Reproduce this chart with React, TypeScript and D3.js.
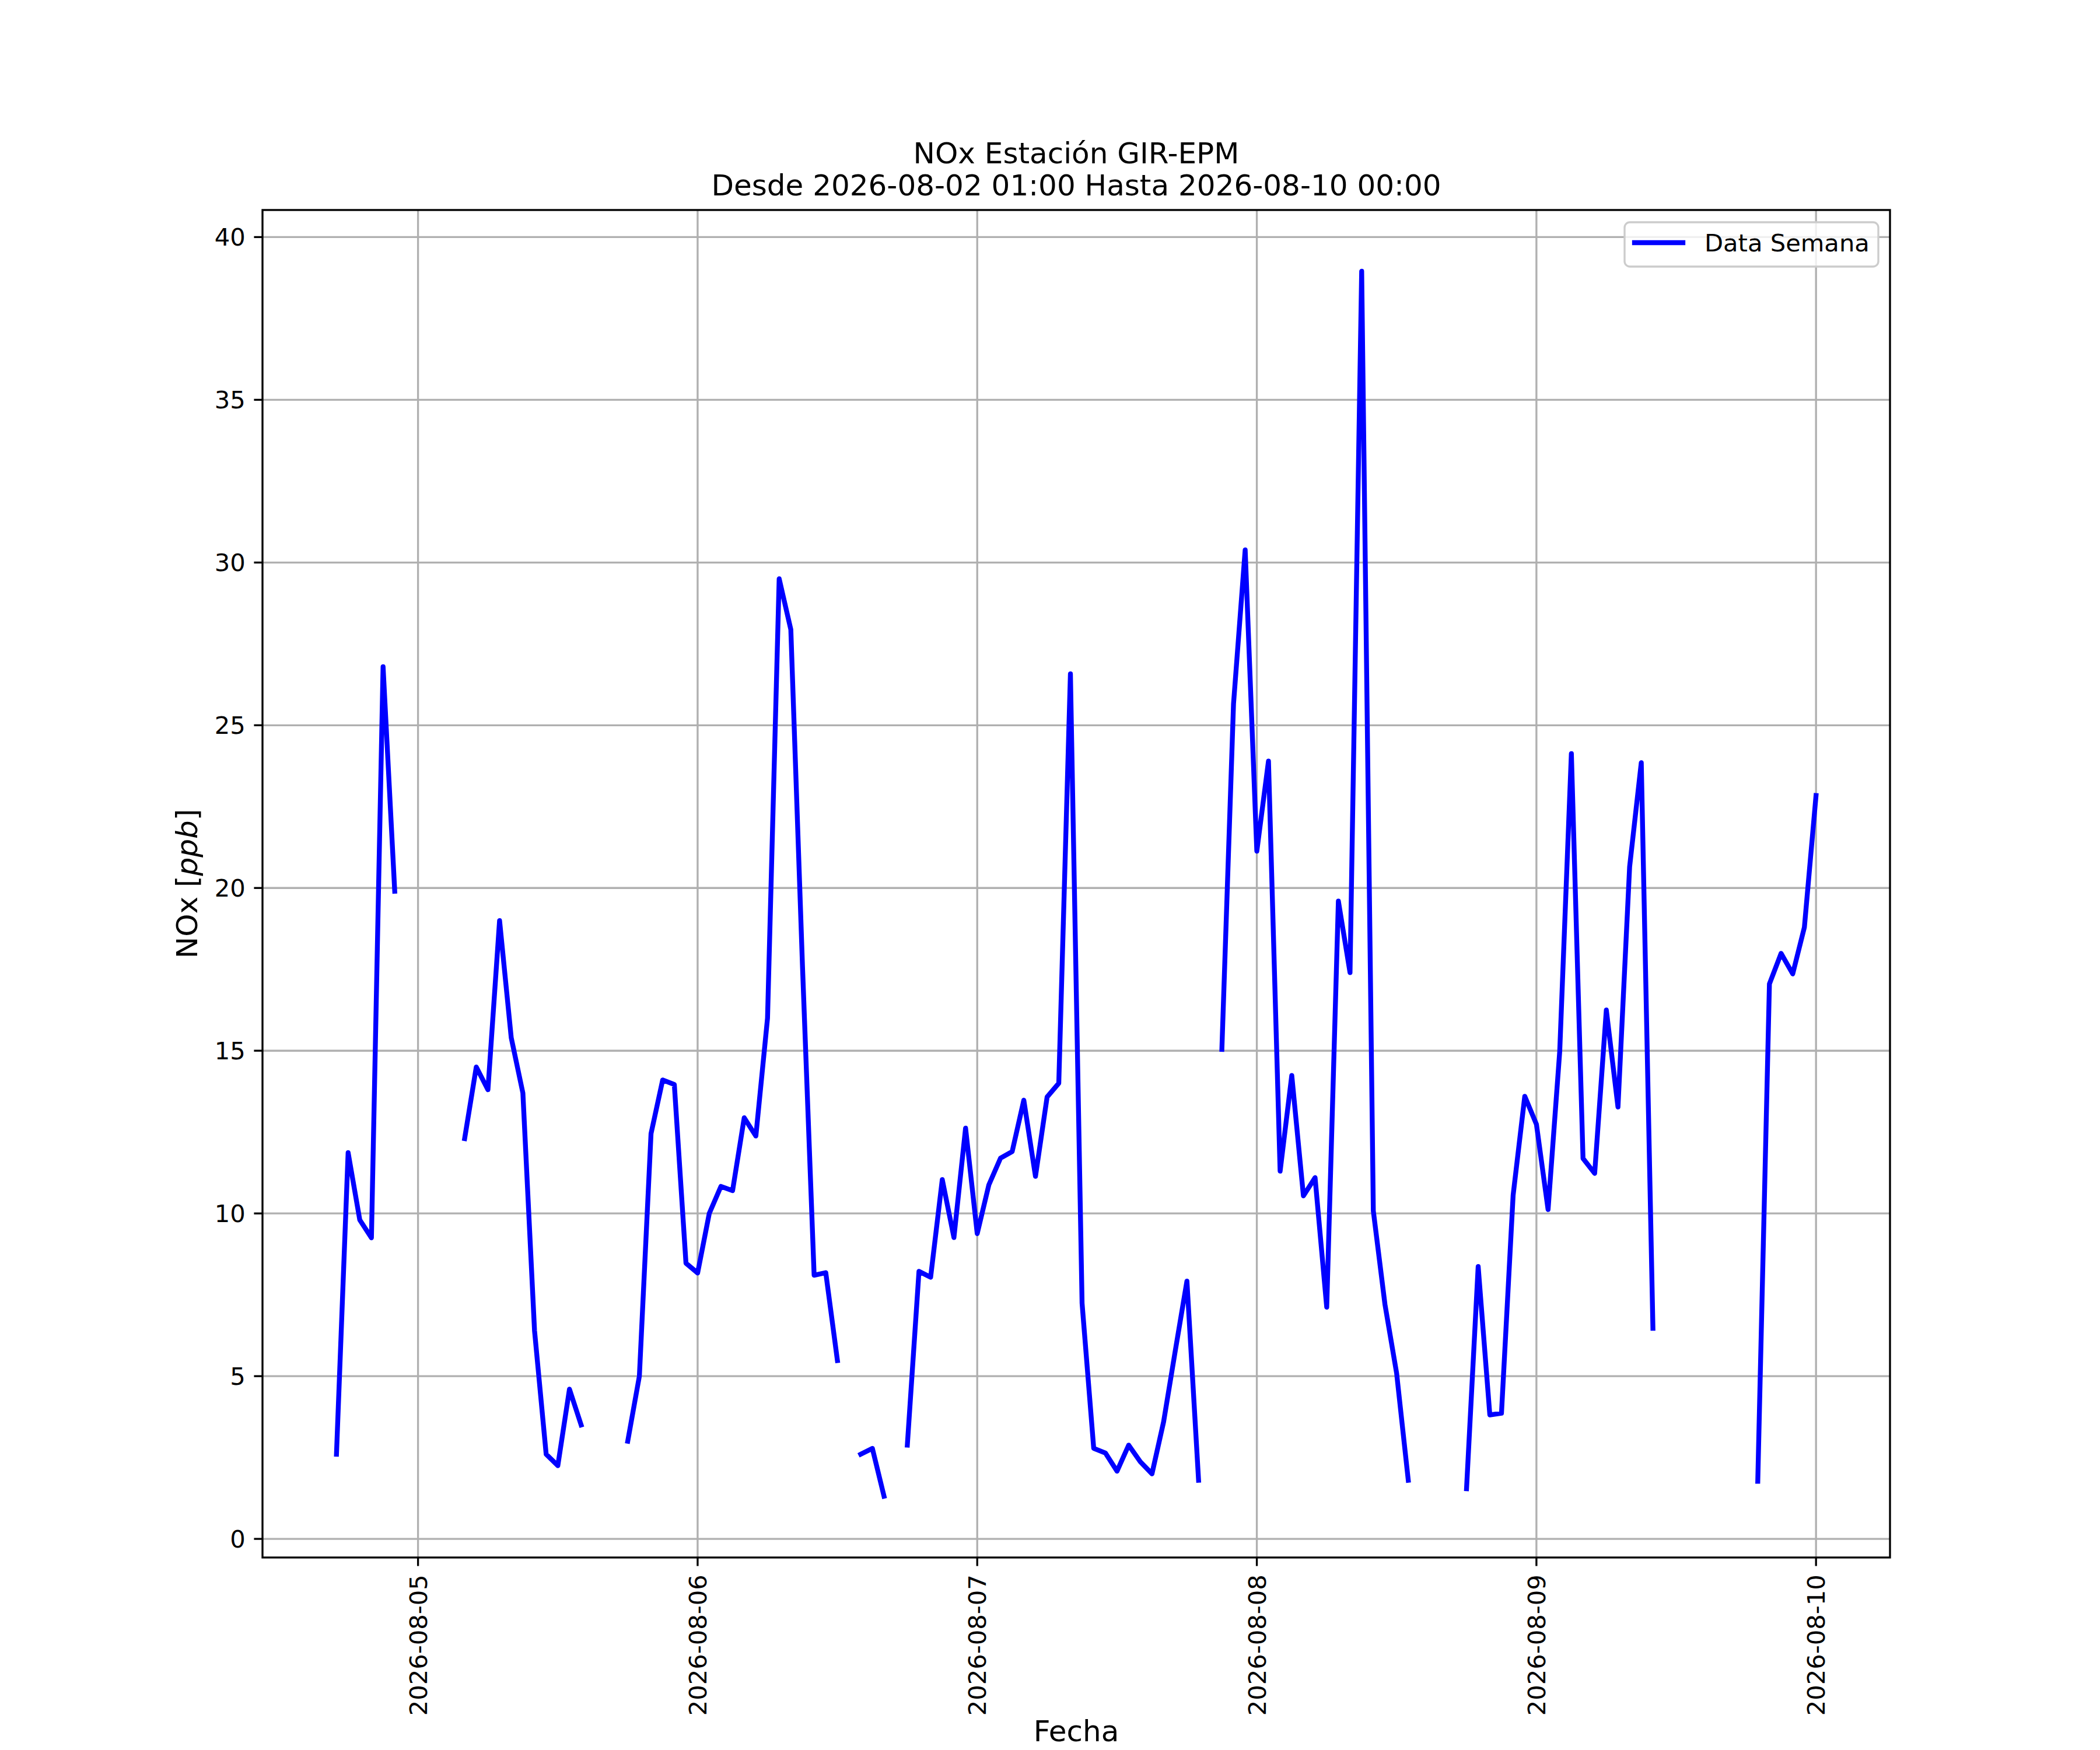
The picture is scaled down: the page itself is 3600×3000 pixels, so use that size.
import { useEffect, useMemo } from 'react'
import * as d3 from 'd3'

// hourly NOx readings starting 2026-08-04 17:00 (null = missing hour)
const START = Date.UTC(2026, 7, 4, 17)
const HOUR = 3600 * 1000

const nox: (number | null)[] = [
  2.6, 11.87, 9.8, 9.25, 26.8, 19.9,
  null, null, null, null, null,
  12.3, 14.5, 13.8, 19.0, 15.4, 13.7, 6.4, 2.6, 2.25, 4.6, 3.5,
  null, null, null,
  3.0, 5.0, 12.45, 14.1, 13.96, 8.47, 8.17, 10.0, 10.83, 10.7, 12.94, 12.38, 16.0, 29.5, 27.94, 17.6, 8.1, 8.18, 5.48,
  null,
  2.6, 2.78, 1.31,
  null,
  2.88, 8.22, 8.04, 11.04, 9.26, 12.62, 9.38, 10.88, 11.7, 11.9, 13.48, 11.14, 13.58, 14.0, 26.58, 7.24,
  2.78, 2.64, 2.08, 2.88, 2.37, 2.0, 3.6, 5.78, 7.92, 1.8,
  null,
  15.04, 25.66, 30.39, 21.13, 23.9, 11.3, 14.24, 10.54, 11.1, 7.12, 19.6, 17.4, 38.95, 10.08, 7.2, 5.09, 1.8,
  null, null, null, null,
  1.54, 8.37, 3.81, 3.86, 10.56, 13.6, 12.74, 10.12, 14.98, 24.13, 11.69, 11.23, 16.25, 13.27, 20.65, 23.85, 6.47,
  null, null, null, null, null, null, null, null,
  1.77, 17.05, 17.99, 17.36, 18.79, 22.84,
]

const yTicks = [0, 5, 10, 15, 20, 25, 30, 35, 40]
const xTickDays = ['2026-08-05', '2026-08-06', '2026-08-07', '2026-08-08', '2026-08-09', '2026-08-10']

const titleLines = ['NOx Estación GIR-EPM', 'Desde 2026-08-02 01:00 Hasta 2026-08-10 00:00']
const legendLabel = 'Data Semana'

type Pt = { t: Date; v: number | null }

const W = 3600
const H = 3000
const margin = { top: 360, right: 360, bottom: 330, left: 450 }
const PT = 300 / 72 // matplotlib points -> px at 300 dpi
const FONT = '"DejaVu Sans", Verdana, sans-serif'
const GRID = '#b0b0b0'

export default function App() {
  useEffect(() => {
    document.body.style.margin = '0'
  }, [])

  const innerW = W - margin.left - margin.right
  const innerH = H - margin.top - margin.bottom

  const data: Pt[] = useMemo(() => nox.map((v, i) => ({ t: new Date(START + i * HOUR), v })), [])

  const { x, y, linePath } = useMemo(() => {
    const t0 = data[0].t.getTime()
    const t1 = data[data.length - 1].t.getTime()
    const padT = (t1 - t0) * 0.05
    const x = d3.scaleUtc().domain([new Date(t0 - padT), new Date(t1 + padT)]).range([0, innerW])

    const vals = data.filter(d => d.v !== null).map(d => d.v as number)
    const [lo, hi] = d3.extent(vals) as [number, number]
    const padV = (hi - lo) * 0.05
    const y = d3.scaleLinear().domain([lo - padV, hi + padV]).range([innerH, 0])

    const ln = d3.line<Pt>()
      .defined(d => d.v !== null)
      .x(d => x(d.t))
      .y(d => y(d.v as number))
    return { x, y, linePath: ln(data) ?? '' }
  }, [data, innerW, innerH])

  const fmtDay = d3.utcFormat('%Y-%m-%d')
  const parseDay = d3.utcParse('%Y-%m-%d')
  const xTicks = xTickDays.map(s => parseDay(s) as Date)

  const tickLen = 3.5 * PT
  const tickPad = 3.5 * PT
  const lw = 0.8 * PT
  const tickFont = 10 * PT
  const labelFont = 12 * PT
  const cx = margin.left + innerW / 2

  // legend geometry (upper right, matplotlib style)
  const legW = 435
  const legH = 76
  const legX = margin.left + innerW - 20 - legW
  const legY = margin.top + 21

  return (
    <svg width={W} height={H} viewBox={`0 0 ${W} ${H}`} style={{ display: 'block', background: '#fff' }} fontFamily={FONT}>
      <defs>
        <clipPath id="plot-clip">
          <rect x={0} y={0} width={innerW} height={innerH} />
        </clipPath>
      </defs>

      <text x={cx} textAnchor="middle" fontSize={labelFont} fill="#000">
        <tspan x={cx} y={280}>{titleLines[0]}</tspan>
        <tspan x={cx} y={335}>{titleLines[1]}</tspan>
      </text>

      <g transform={`translate(${margin.left},${margin.top})`}>
        {/* grid */}
        {yTicks.map(t => (
          <line key={`gy-${t}`} x1={0} x2={innerW} y1={y(t)} y2={y(t)} stroke={GRID} strokeWidth={lw} />
        ))}
        {xTicks.map(t => (
          <line key={`gx-${+t}`} x1={x(t)} x2={x(t)} y1={0} y2={innerH} stroke={GRID} strokeWidth={lw} />
        ))}

        <path
          d={linePath}
          fill="none"
          stroke="#0000ff"
          strokeWidth={2 * PT}
          strokeLinecap="square"
          strokeLinejoin="round"
          clipPath="url(#plot-clip)"
        />

        {/* spines */}
        <rect x={0} y={0} width={innerW} height={innerH} fill="none" stroke="#000" strokeWidth={lw} />

        {/* y axis */}
        {yTicks.map(t => (
          <g key={`ty-${t}`}>
            <line x1={-tickLen} x2={0} y1={y(t)} y2={y(t)} stroke="#000" strokeWidth={lw} />
            <text x={-tickLen - tickPad} y={y(t)} dy="0.36em" textAnchor="end" fontSize={tickFont} fill="#000">
              {t}
            </text>
          </g>
        ))}

        {/* x axis */}
        {xTicks.map(t => (
          <g key={`tx-${+t}`}>
            <line x1={x(t)} x2={x(t)} y1={innerH} y2={innerH + tickLen} stroke="#000" strokeWidth={lw} />
            <text
              transform={`translate(${x(t)},${innerH + tickLen + tickPad}) rotate(-90)`}
              dy="0.36em"
              textAnchor="end"
              fontSize={tickFont}
              fill="#000"
            >
              {fmtDay(t)}
            </text>
          </g>
        ))}
      </g>

      <text x={cx} y={2985} textAnchor="middle" fontSize={labelFont} fill="#000">Fecha</text>

      <text transform={`translate(338,${margin.top + innerH / 2}) rotate(-90)`} textAnchor="middle" fontSize={labelFont} fill="#000">
        NOx [<tspan fontStyle="italic">ppb</tspan>]
      </text>

      {/* legend */}
      <g>
        <rect x={legX} y={legY} width={legW} height={legH} rx={9} fill="#fff" fillOpacity={0.8} stroke="#cccccc" strokeWidth={lw} />
        <line x1={legX + 17} x2={legX + 100} y1={legY + 35} y2={legY + 35} stroke="#0000ff" strokeWidth={2 * PT} strokeLinecap="square" />
        <text x={legX + 137} y={legY + 50} fontSize={tickFont} fill="#000">{legendLabel}</text>
      </g>
    </svg>
  )
}
